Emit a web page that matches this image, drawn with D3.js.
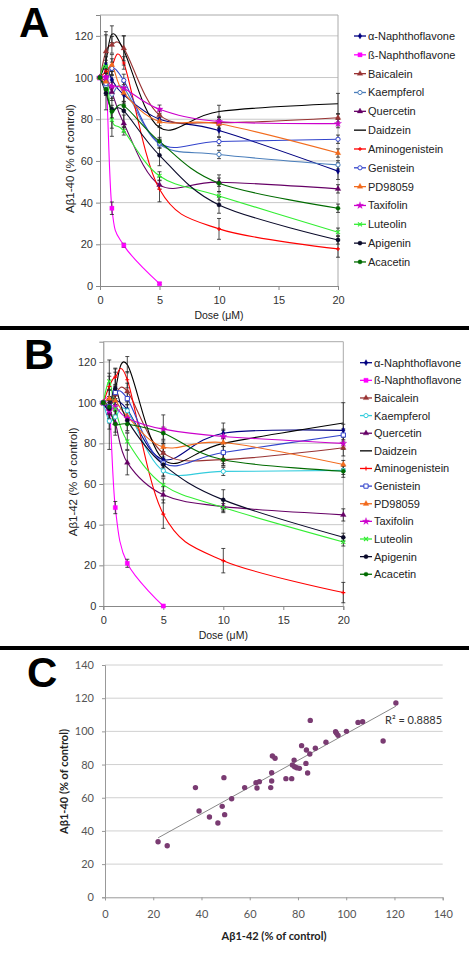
<!DOCTYPE html>
<html><head><meta charset="utf-8">
<script src="https://cdn.jsdelivr.net/npm/d3@7"></script>
<style>body{margin:0;background:#fff}svg{display:block}</style>
</head><body>
<svg id="fig" width="469" height="970"></svg>
<script>
// ---------------- DATA ----------------
const doses = [0, 0.5, 1, 2, 5, 10, 20];
const compounds = ["α-Naphthoflavone","ß-Naphthoflavone","Baicalein","Kaempferol","Quercetin","Daidzein","Aminogenistein","Genistein","PD98059","Taxifolin","Luteolin","Apigenin","Acacetin"];
const lineTicksY = [0, 20, 40, 60, 80, 100, 120];
const lineTicksX = [0, 5, 10, 15, 20];
const scatterTicks = [0, 20, 40, 60, 80, 100, 120, 140];

// Panel A: Aβ1-40 (% of control), one row per compound, by dose
const valuesA = [
  [100, 106, 99, 91.7, 80, 74.6, 55.1],
  [100, 100, 37.3, 19.5, 1.1],
  [100, 112.5, 115.7, 114, 82, 78.4, 80.7],
  [100, 96, 92, 95, 68, 63.1, 58.1],
  [100, 98, 93, 78, 48.5, 49.8, 46.6],
  [100, 108, 120.8, 113, 76, 83.7, 87.4],
  [100, 103, 106, 107, 46.4, 27.4, 17.8],
  [100, 97, 104.4, 98.6, 68.5, 69.3, 70.4],
  [100, 98, 106, 92.6, 78.9, 77.8, 63.8],
  [100, 100, 95.7, 94.9, 84.8, 78.9, 77.9],
  [100, 105.3, 79.7, 74.4, 52.8, 43.2, 25.8],
  [100, 92.5, 84.8, 84, 62.7, 38.9, 22.1],
  [100, 94.4, 83.7, 86.4, 69.3, 49.3, 37.3]
];
const errorsA = [
  [0, 4, 4, 4, 4, 3, 4],
  [0, 3, 3, 1, 0.5],
  [0, 8, 4, 6, 3, 3, 2],
  [0, 3, 3, 3, 2, 2, 2],
  [0, 3, 3, 4, 2, 2, 2],
  [0, 14, 4, 7, 6, 3, 5],
  [0, 4, 3, 3, 6, 5, 4],
  [0, 3, 3, 3, 2, 2, 2],
  [0, 4, 5, 4, 2, 2, 2],
  [0, 4, 3, 3, 2, 2, 2],
  [0, 3, 4, 2, 2, 2, 2],
  [0, 8, 13, 8, 5, 4, 2],
  [0, 3, 3, 2, 2, 4, 2]
];
// Panel B: Aβ1-42 (% of control)
const valuesB = [
  [100, 98, 101, 96.5, 72, 85, 86.4],
  [100, 98, 48.4, 21, 0],
  [100, 97, 104, 105.6, 75.2, 72, 77.8],
  [100, 91, 93, 96, 66.5, 66.2, 66.7],
  [100, 95, 90, 70.5, 54.7, 48.9, 44.8],
  [100, 99, 107, 118.7, 72, 80, 90],
  [100, 108, 112.6, 111.3, 45.2, 22.3, 6.6],
  [100, 98, 105, 102, 70.3, 75.5, 84.1],
  [100, 102, 101, 93.3, 78.2, 80.4, 69.6],
  [100, 96, 98, 92.4, 87, 83.4, 80],
  [100, 110.5, 97, 81, 59.6, 48.4, 31.5],
  [100, 97, 107, 91.3, 69.5, 52.2, 33.8],
  [100, 98, 89.5, 89.5, 85, 71.9, 66.3]
];
const errorsB = [
  [0, 4, 5, 4, 4, 2, 3],
  [0, 3, 3, 2, 0.5],
  [0, 5, 5, 4, 4, 3, 4],
  [0, 4, 3, 3, 3, 2, 2],
  [0, 5, 6, 6, 4, 3, 3],
  [0, 22, 8, 4, 8, 10, 10],
  [0, 5, 4, 4, 7, 6, 5],
  [0, 3, 3, 3, 3, 3, 3],
  [0, 4, 4, 4, 3, 2, 2],
  [0, 4, 4, 3, 7, 3, 3],
  [0, 4, 4, 4, 3, 2, 2],
  [0, 6, 10, 5, 3, 5, 2],
  [0, 3, 4, 4, 3, 3, 3]
];
// Panel C scatter: Aβ1-42 (x) vs Aβ1-40 (y)
const scatterX42 = [22.0,25.8,37.5,39.0,43.3,46.8,48.6,49.3,49.6,52.5,57.9,62.6,63.0,64.0,68.7,69.1,69.1,69.4,70.5,75.0,77.4,77.7,78.4,78.6,79.5,80.6,81.5,83.3,83.5,84.0,84.9,85.1,87.2,91.6,95.6,96.0,96.6,100.1,104.9,106.8,115.3,120.6];
const scatterY40 = [33.5,31.1,66.1,52.0,48.4,44.8,54.8,72.1,49.8,59.4,66.1,69.1,65.9,69.7,66.1,70.1,75.1,85.2,83.8,71.5,71.5,79.7,82.7,78.7,78.1,77.7,91.4,80.7,88.8,74.9,86.4,106.6,89.8,93.4,99.8,98.8,97.6,100.0,105.4,105.8,94.2,117.1];
const r2Label = "R² = 0.8885";

// ---------------- STYLES ----------------
const stylesA = [
  {c:"#000080", s:"diamond"}, {c:"#FF00FF", s:"square"}, {c:"#993333", s:"triangle"},
  {c:"#4A7EBB", s:"circle", open:true}, {c:"#660066", s:"triangle"}, {c:"#000000", s:null},
  {c:"#FF0000", s:"plus"}, {c:"#3344CC", s:"circle", open:true}, {c:"#F26B1D", s:"triangle"},
  {c:"#CC00CC", s:"star"}, {c:"#33EE33", s:"x"}, {c:"#0A0A2A", s:"circle"}, {c:"#006B00", s:"circle"}
];
const stylesB = stylesA.map((d,i) => i===3 ? {c:"#33CCDD", s:"circle", open:true}
                                  : i===7 ? {c:"#3344CC", s:"square", open:true} : d);

const svg = d3.select("#fig");
const SANS = "'Liberation Sans', Arial, sans-serif";

function symPath(s) {
  if (s === "x") return "M-2,-2L2,2M-2,2L2,-2";
  if (s === "plus") return "M-2,0H2M0,-2V2";
  const t = {diamond:d3.symbolDiamond, square:d3.symbolSquare, triangle:d3.symbolTriangle,
             circle:d3.symbolCircle, star:d3.symbolStar}[s];
  const size = {diamond:11, square:18, triangle:14, circle:14, star:16}[s];
  return d3.symbol().type(t).size(size)();
}
function drawMarker(g, st, x, y) {
  if (!st.s) return;
  const p = g.append("path").attr("d", symPath(st.s)).attr("transform", `translate(${x},${y})`);
  if (st.s === "x" || st.s === "plus") p.attr("fill","none").attr("stroke", st.c).attr("stroke-width", 1.1);
  else if (st.open) p.attr("fill","#fff").attr("stroke", st.c).attr("stroke-width", 1);
  else p.attr("fill", st.c).attr("stroke", st.c).attr("stroke-width", 0.3);
}

function linePanel(cfg) {
  const {left, right, top, bottom, values, errors, styles, yLabel, yLabelX, legX, legY0, legDy, letter, letterX, letterY} = cfg;
  const x = d3.scaleLinear().domain([0, 20]).range([left, right]);
  const y = d3.scaleLinear().domain([0, 130]).range([bottom, top]);
  const g = svg.append("g");
  g.append("g").selectAll("line").data(lineTicksY.filter(v => v > 0)).join("line")
    .attr("x1", left).attr("x2", right).attr("y1", d => y(d)).attr("y2", d => y(d))
    .attr("stroke", "#c8c8c8").attr("stroke-width", 1);
  g.append("line").attr("x1", left).attr("x2", right).attr("y1", top).attr("y2", top).attr("stroke", "#aaa");
  g.append("line").attr("x1", right).attr("x2", right).attr("y1", top).attr("y2", bottom).attr("stroke", "#aaa");
  const ya = g.append("g").attr("transform", `translate(${left},0)`)
    .call(d3.axisLeft(y).tickValues(lineTicksY).tickSize(4).tickPadding(3));
  const xa = g.append("g").attr("transform", `translate(0,${bottom})`)
    .call(d3.axisBottom(x).tickValues(lineTicksX).tickSize(4).tickPadding(6));
  [ya, xa].forEach(a => {
    a.select(".domain").attr("stroke", "#888");
    a.selectAll(".tick line").attr("stroke", "#888");
    a.selectAll("text").attr("font-family", SANS).attr("font-size", 11).attr("fill", "#333");
  });
  g.append("text").attr("x", (left + right) / 2).attr("y", bottom + 33).attr("text-anchor", "middle")
    .attr("font-family", SANS).attr("font-size", 10.5).attr("fill", "#222").text("Dose (μM)");
  g.append("text").attr("transform", `translate(${yLabelX},${(top + bottom) / 2 + 8}) rotate(-90)`)
    .attr("text-anchor", "middle").attr("font-family", SANS).attr("font-size", 11.5).attr("fill", "#222").text(yLabel);
  const line = d3.line().x(d => x(d[0])).y(d => y(d[1])).curve(d3.curveCardinal.tension(0));
  values.forEach((vals, i) => {
    const pts = vals.map((v, j) => [doses[j], v]);
    g.append("path").attr("d", line(pts)).attr("fill", "none").attr("stroke", styles[i].c).attr("stroke-width", 1.1);
  });
  values.forEach((vals, i) => {
    vals.forEach((v, j) => {
      const e = errors[i][j]; if (!e) return;
      const cx = x(doses[j]);
      g.append("path").attr("d", `M${cx},${y(v - e)}V${y(v + e)}M${cx - 2},${y(v - e)}H${cx + 2}M${cx - 2},${y(v + e)}H${cx + 2}`)
        .attr("stroke", "#222").attr("stroke-width", 0.8).attr("fill", "none");
    });
  });
  values.forEach((vals, i) => vals.forEach((v, j) => drawMarker(g, styles[i], x(doses[j]), y(v))));
  compounds.forEach((name, i) => {
    const ly = legY0 + i * legDy;
    g.append("line").attr("x1", legX).attr("x2", legX + 12).attr("y1", ly).attr("y2", ly)
      .attr("stroke", styles[i].c).attr("stroke-width", 1.3);
    drawMarker(g, styles[i], legX + 6, ly);
    g.append("text").attr("x", legX + 14).attr("y", ly + 4).attr("font-family", SANS).attr("font-size", 11)
      .attr("fill", "#222").text(name);
  });
  svg.append("text").attr("x", letterX).attr("y", letterY).attr("font-family", SANS).attr("font-weight", "bold")
    .attr("font-size", 42).text(letter);
}

linePanel({left:100, right:338, top:15, bottom:286, values:valuesA, errors:errorsA, styles:stylesA,
  yLabel:"Aβ1-40 (% of control)", yLabelX:74, legX:354, legY0:36, legDy:18.83,
  letter:"A", letterX:19, letterY:37});
linePanel({left:103.3, right:343.3, top:341.7, bottom:606, values:valuesB, errors:errorsB, styles:stylesB,
  yLabel:"Aβ1-42 (% of control)", yLabelX:77, legX:360, legY0:362.7, legDy:17.63,
  letter:"B", letterX:24, letterY:369});

svg.append("rect").attr("x", 0).attr("y", 326).attr("width", 469).attr("height", 4).attr("fill", "#000");
svg.append("rect").attr("x", 0).attr("y", 646).attr("width", 469).attr("height", 4).attr("fill", "#000");

// ---------------- PANEL C ----------------
(function () {
  const LATO = "Lato, 'Open Sans', sans-serif";
  const left = 105, right = 442.7, top = 665, bottom = 897.3;
  const x = d3.scaleLinear().domain([0, 140]).range([left, right]);
  const y = d3.scaleLinear().domain([0, 140]).range([bottom, top]);
  const g = svg.append("g");
  g.append("g").selectAll("line").data(scatterTicks.filter(v => v > 0)).join("line")
    .attr("x1", left).attr("x2", right).attr("y1", d => y(d)).attr("y2", d => y(d))
    .attr("stroke", "#d0d0d0");
  const ya = g.append("g").attr("transform", `translate(${left},0)`)
    .call(d3.axisLeft(y).tickValues(scatterTicks).tickSize(3).tickPadding(8));
  const xa = g.append("g").attr("transform", `translate(0,${bottom})`)
    .call(d3.axisBottom(x).tickValues(scatterTicks).tickSize(3).tickPadding(10));
  [ya, xa].forEach(a => {
    a.select(".domain").attr("stroke", "#999");
    a.selectAll(".tick line").attr("stroke", "#999");
    a.selectAll("text").attr("font-family", LATO).attr("font-size", 11).attr("fill", "#555");
  });
  g.append("text").attr("x", 274).attr("y", 940).attr("text-anchor", "middle").attr("font-family", LATO)
    .attr("font-weight", "bold").attr("font-size", 11).attr("fill", "#222").text("Aβ1-42 (% of control)");
  g.append("text").attr("transform", `translate(68,${781.5}) rotate(-90)`).attr("text-anchor", "middle")
    .attr("font-family", LATO).attr("font-weight", "bold").attr("font-size", 11).attr("fill", "#222")
    .text("Aβ1-40 (% of control)");
  const n = scatterX42.length;
  const mx = d3.mean(scatterX42), my = d3.mean(scatterY40);
  let sxy = 0, sxx = 0;
  for (let i = 0; i < n; i++) { sxy += (scatterX42[i] - mx) * (scatterY40[i] - my); sxx += (scatterX42[i] - mx) ** 2; }
  const b = sxy / sxx, a = my - b * mx;
  const x0 = d3.min(scatterX42), x1 = d3.max(scatterX42);
  g.append("line").attr("x1", x(x0)).attr("y1", y(a + b * x0)).attr("x2", x(x1)).attr("y2", y(a + b * x1))
    .attr("stroke", "#888").attr("stroke-width", 1);
  g.append("g").selectAll("circle").data(scatterX42.map((v, i) => [v, scatterY40[i]])).join("circle")
    .attr("cx", d => x(d[0])).attr("cy", d => y(d[1])).attr("r", 2.7).attr("fill", "#7A3B72");
  g.append("text").attr("x", 385).attr("y", 724).attr("font-family", LATO).attr("font-size", 11)
    .attr("fill", "#333").text(r2Label);
  svg.append("text").attr("x", 27).attr("y", 687).attr("font-family", SANS).attr("font-weight", "bold")
    .attr("font-size", 42).text("C");
})();
</script>
</body></html>
